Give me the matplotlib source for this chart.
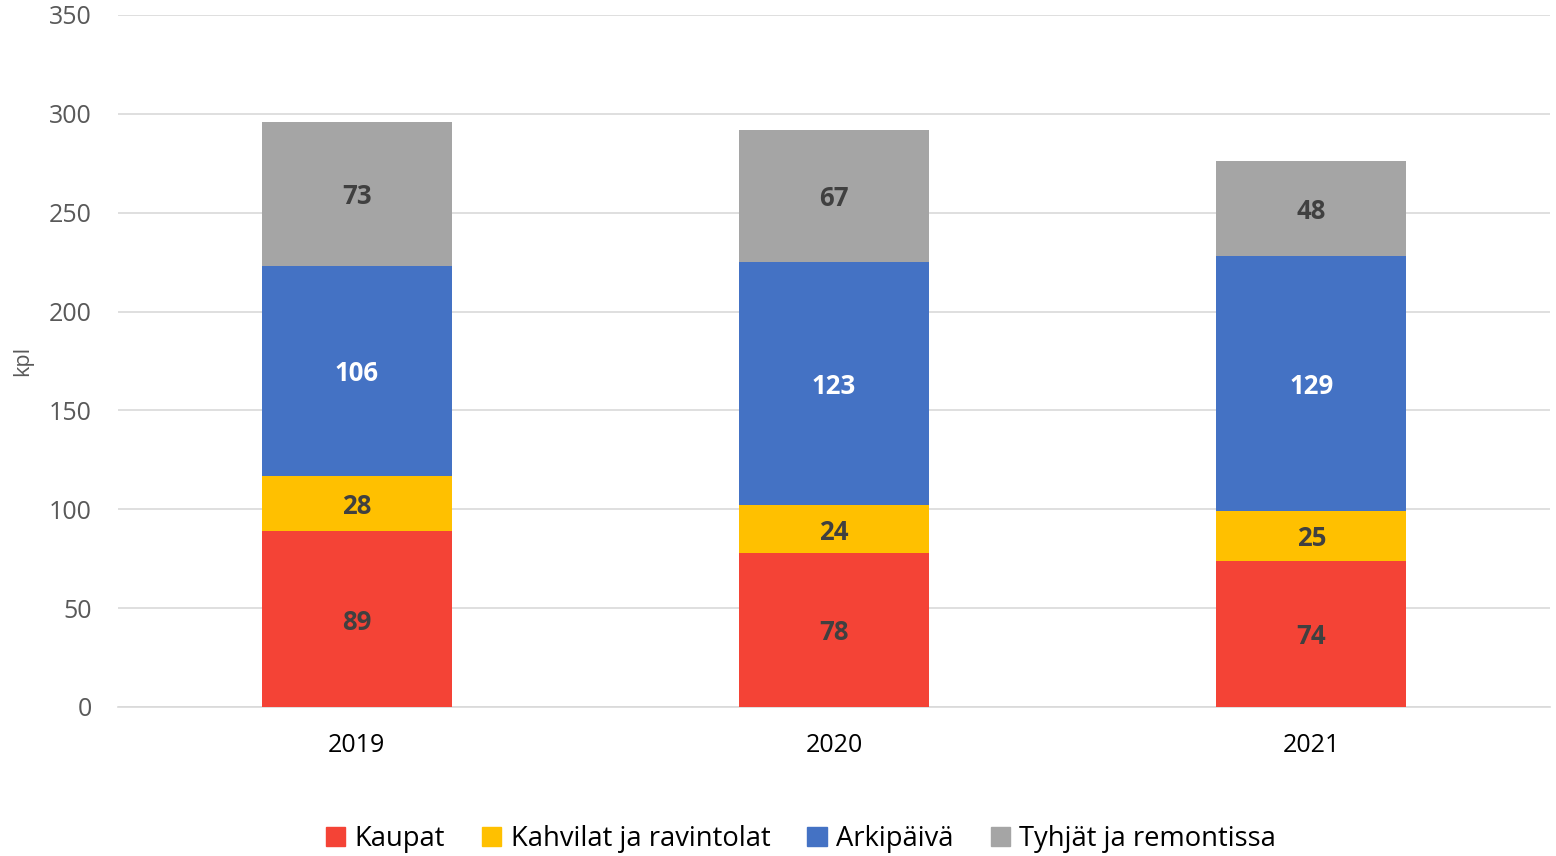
import matplotlib
matplotlib.use("Agg")
import matplotlib.pyplot as plt
import numpy as np
from matplotlib.patches import Patch

plt.rcParams['font.family'] = ['Open Sans', 'DejaVu Sans']

years = ["2019", "2020", "2021"]
kaupat = [89, 78, 74]
kahvilat = [28, 24, 25]
arkipaiva = [106, 123, 129]
tyhjat = [73, 67, 48]

series = [
    ("Kaupat", kaupat, "#F44336", "#404040"),
    ("Kahvilat ja ravintolat", kahvilat, "#FFC000", "#404040"),
    ("Arkipäivä", arkipaiva, "#4472C4", "#FFFFFF"),
    ("Tyhjät ja remontissa", tyhjat, "#A5A5A5", "#404040"),
]

fig = plt.figure(figsize=(15.56, 8.56), dpi=100)
ax = fig.add_axes([118/1556, 1-707/856, (1550-118)/1556, (707-15)/856])

x = np.arange(len(years))
width = 0.398
bottom = np.zeros(len(years))
for name, vals, col, tcol in series:
    vals = np.array(vals, dtype=float)
    ax.bar(x, vals, width, bottom=bottom, color=col, label=name, zorder=3)
    for xi, b, v in zip(x, bottom, vals):
        ax.text(xi, b + v/2, f"{int(v)}", ha="center", va="center_baseline",
                fontsize=18.5, fontweight="bold", color=tcol, zorder=4)
    bottom += vals

ax.set_xlim(-0.5, 2.5)
ax.set_ylim(0, 350)
ax.set_yticks(range(0, 351, 50))
ax.set_xticks(x)
ax.set_xticklabels(years)
ax.tick_params(axis="y", labelsize=18, colors="#595959", length=0, pad=19)
ax.tick_params(axis="x", labelsize=18, colors="#000000", length=0, pad=19)
ax.grid(axis="y", color="#D9D9D9", linewidth=1.2, zorder=0)
for s in ["top", "right", "left"]:
    ax.spines[s].set_visible(False)
ax.spines["bottom"].set_color("#D9D9D9")
ax.spines["bottom"].set_linewidth(1.2)
ax.set_ylabel("kpl", fontsize=15.5, color="#595959")
ax.yaxis.set_label_coords(-0.059, 0.5)

handles = [Patch(color=c, label=n) for n, _, c, _ in series]
fig.legend(handles=handles, loc="center", bbox_to_anchor=(801/1556, 1-839/856),
           ncol=4, frameon=False, fontsize=19.7, handlelength=0.7, handleheight=0.7,
           columnspacing=1.35, handletextpad=0.35)

fig.savefig("out.png", dpi=100, facecolor="white")
